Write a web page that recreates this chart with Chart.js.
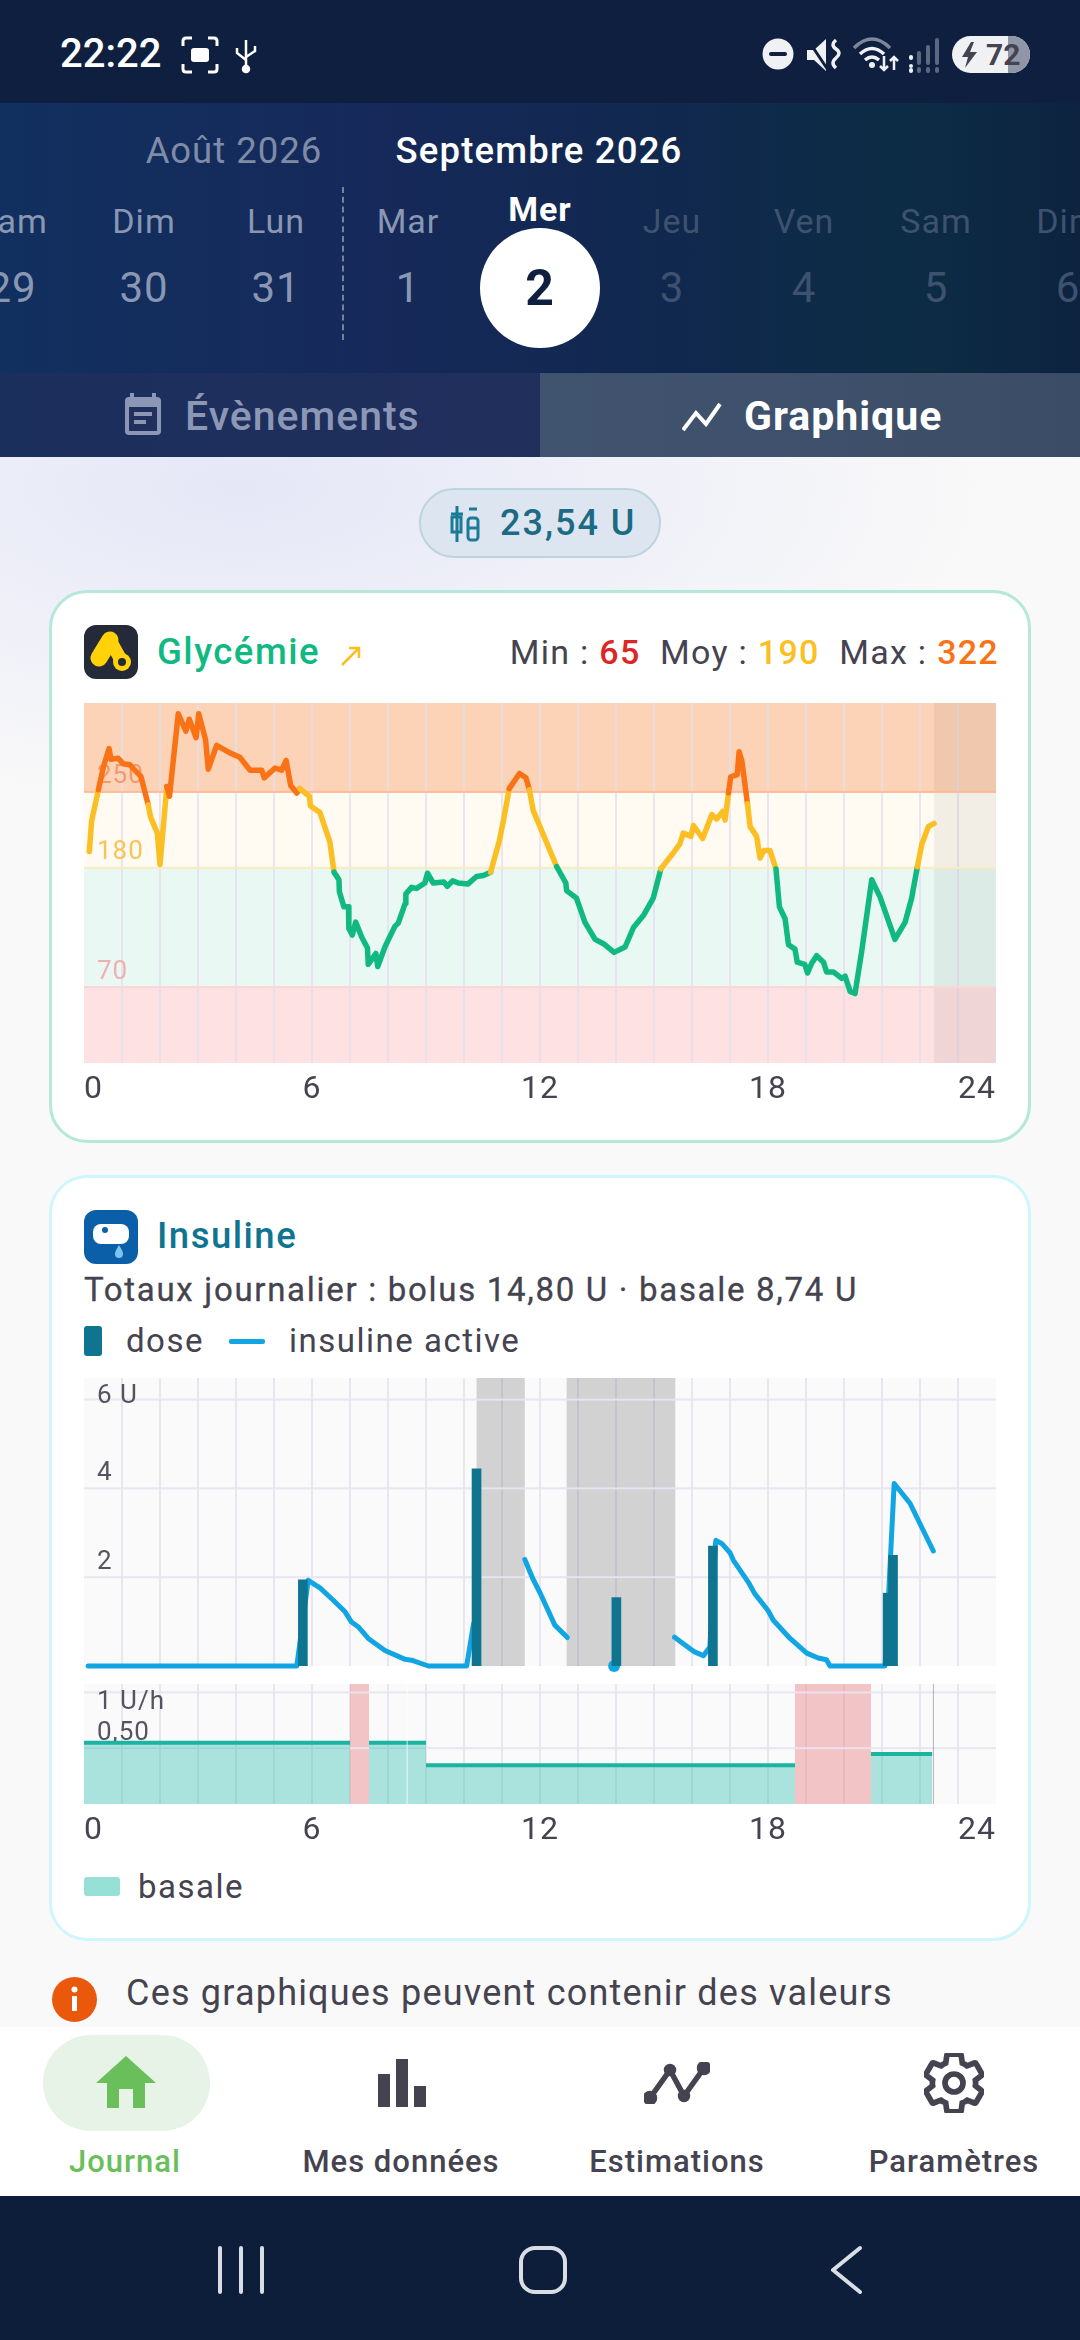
<!DOCTYPE html>
<html lang="fr">
<head>
<meta charset="utf-8">
<title>Journal - Graphique</title>
<script src="https://cdn.jsdelivr.net/npm/chart.js@4"></script>
<style>
  html, body { margin:0; padding:0; }
  body { width:1080px; height:2340px; position:relative; overflow:hidden; background:#f9f9f9; font-family:Roboto, sans-serif; color:#45434f; letter-spacing:1px; }
  .abs { position:absolute; }
  .txt { position:absolute; white-space:nowrap; line-height:1; transform:translateY(-50%); }
  .ctr { transform:translate(-50%,-50%); }
  canvas { position:absolute; display:block; }
  .card { position:absolute; background:#fff; box-sizing:border-box; border-radius:38px; }
</style>
</head>
<body>

<div class="abs" style="left:0;top:457px;width:1080px;height:400px;background:radial-gradient(ellipse 760px 320px at 240px 30px,#e5e7f7 0%,rgba(249,249,249,0) 100%);"></div>
<div class="abs" style="left:0;top:0;width:1080px;height:103px;background:#0e1f3f;"></div>
<div class="abs" style="left:0;top:103px;width:1080px;height:270px;background:linear-gradient(90deg,#11305f 0%,#16295a 35%,#11284f 60%,#0c2c44 85%,#0d2340 100%);"></div>
<div class="abs" style="left:0;top:373px;width:540px;height:84px;background:linear-gradient(90deg,#1b2f5c,#212f5d);"></div>
<div class="abs" style="left:540px;top:373px;width:540px;height:84px;background:linear-gradient(90deg,#41546f,#3b4c66);"></div>

<!-- status bar -->
<div class="txt" style="left:60px;top:54px;font-size:40px;font-weight:500;color:#fff;letter-spacing:0;">22:22</div>
<svg class="abs" style="left:181px;top:36px" width="38" height="38" viewBox="0 0 38 38" fill="none" stroke="#fff" stroke-width="3"><path d="M2 10V5q0-3 3-3h6M27 2h6q3 0 3 3v5M36 28v5q0 3-3 3h-6M11 36H5q-3 0-3-3v-5"/><rect x="10" y="12" width="18" height="14" rx="3" fill="#fff" stroke="none"/></svg>
<svg class="abs" style="left:234px;top:36px" width="24" height="38" viewBox="0 0 24 38" fill="none" stroke="#fff" stroke-width="2.5"><path d="M12 4v28M3 12v5l9 7M21 10v5l-9 6"/><circle cx="12" cy="33" r="3" fill="#fff"/></svg>
<svg class="abs" style="left:762px;top:38px" width="32" height="32" viewBox="0 0 32 32"><circle cx="16" cy="16" r="15.5" fill="#f0f1f4"/><rect x="7" y="14" width="18" height="4" rx="2" fill="#0e1f3f"/></svg>
<svg class="abs" style="left:806px;top:38px" width="36" height="34" viewBox="0 0 36 34"><path d="M1 12h7L20 1v32L8 22H1z" fill="#f0f1f4"/><path d="M30 2q-6 5 0 9t0 9 0 10" fill="none" stroke="#f0f1f4" stroke-width="3.5"/><path d="M2 2l20 30" stroke="#0e1f3f" stroke-width="3"/></svg>
<svg class="abs" style="left:852px;top:36px" width="48" height="36" viewBox="0 0 48 36" fill="none" stroke-width="3.5"><path d="M2 12q18-18 36 0" stroke="#7d8799"/><path d="M8 18q12-11 24 0M13 24q7-6 14 0" stroke="#f0f1f4"/><circle cx="20" cy="29" r="3" fill="#f0f1f4" stroke="none"/><path d="M32 20v14M28 30l4 4 4-4M42 34V22M38 25l4-4 4 4" stroke="#f0f1f4" stroke-width="2.5"/></svg>
<svg class="abs" style="left:908px;top:38px" width="34" height="36" viewBox="0 0 34 36"><g fill="#5a6880"><rect x="9" y="13" width="4" height="14" rx="2"/><rect x="18" y="7" width="4" height="20" rx="2"/><rect x="27" y="0" width="4" height="27" rx="2"/><rect x="9" y="29" width="4" height="6" rx="2"/><rect x="18" y="29" width="4" height="6" rx="2"/><rect x="27" y="29" width="4" height="6" rx="2"/></g><rect x="1" y="17" width="4" height="5" rx="2" fill="#f0f1f4"/><rect x="1" y="26" width="4" height="4" rx="2" fill="#f0f1f4"/><rect x="1" y="30" width="4" height="5" rx="2" fill="#f0f1f4"/></svg>
<div class="abs" style="left:952px;top:36px;width:78px;height:37px;border-radius:19px;overflow:hidden;background:#eff1f4;"><div class="abs" style="left:56px;top:0;width:22px;height:37px;background:#8f97a6;"></div></div>
<svg class="abs" style="left:962px;top:42px" width="16" height="26" viewBox="0 0 16 26"><path d="M9 0L0 15h6l-3 11 12-16H8l4-10z" fill="#45434f"/></svg>
<div class="txt" style="left:986px;top:55px;font-size:30px;font-weight:700;color:#45434f;letter-spacing:0;">72</div>

<!-- month and days -->
<div class="txt ctr" style="left:234px;top:151px;font-size:36.5px;color:#7f8ca8;">Août 2026</div>
<div class="txt ctr" style="left:539px;top:151px;font-size:36.5px;font-weight:500;color:#fff;letter-spacing:1.2px;">Septembre 2026</div>
<div id="dayStrip"></div>
<div class="abs" style="left:342px;top:187px;height:153px;border-left:2px dashed #76839f;"></div>
<div class="abs" style="left:480px;top:228px;width:120px;height:120px;border-radius:50%;background:#fff;"></div>

<!-- tabs -->
<svg class="abs" style="left:123px;top:392px" width="40" height="44" viewBox="0 0 40 44"><path d="M9 1v5M31 1v5" stroke="#8b97b5" stroke-width="4"/><rect x="2" y="5" width="36" height="38" rx="4" fill="#8b97b5"/><rect x="6" y="15" width="28" height="24" fill="#212f5d"/><rect x="11" y="20" width="18" height="4" fill="#8b97b5"/><rect x="11" y="28" width="12" height="4" fill="#8b97b5"/></svg>
<div class="txt" style="left:185px;top:416px;font-size:41px;font-weight:500;color:#8b97b5;">Évènements</div>
<svg class="abs" style="left:682px;top:402px" width="40" height="30" viewBox="0 0 40 30" fill="none" stroke="#fff" stroke-width="4"><path d="M1 28L14 11l10 11L38 2"/></svg>
<div class="txt" style="left:744px;top:416px;font-size:41px;font-weight:700;color:#fff;letter-spacing:1px;">Graphique</div>

<!-- pill -->
<div class="abs" style="left:419px;top:488px;width:242px;height:70px;box-sizing:border-box;border:2px solid #bdd3de;border-radius:35px;background:#dde6f0;"></div>
<svg class="abs" style="left:449px;top:506px" width="32" height="36" viewBox="0 0 32 36" fill="none" stroke="#1a7a98" stroke-width="3"><path d="M8 0v36M2 8h12"/><rect x="3" y="11" width="9" height="15"/><path d="M20 3h8"/><rect x="19" y="12" width="10" height="22" rx="3"/><path d="M19 22h10"/></svg>
<div class="txt" style="left:500px;top:523px;font-size:36px;font-weight:500;color:#1d6a85;letter-spacing:2px;">23,54 U</div>

<!-- card glycemie -->
<div class="card" style="left:49px;top:590px;width:982px;height:553px;border:3px solid #b5e8d8;"></div>
<svg class="abs" style="left:84px;top:625px" width="54" height="54" viewBox="0 0 54 54"><rect width="54" height="54" rx="12" fill="#242a38"/><g fill="none" stroke="#ffd20a" stroke-linecap="round"><path d="M26 15L15 33" stroke-width="17"/><path d="M26 15L37 35" stroke-width="13"/></g><circle cx="38" cy="37" r="9" fill="#ffd20a"/><circle cx="38" cy="37" r="4" fill="#242a38"/></svg>
<div class="txt" style="left:157px;top:652px;font-size:36.5px;font-weight:500;color:#10b981;letter-spacing:1.5px;">Glycémie</div>
<svg class="abs" style="left:340px;top:646px" width="22" height="20" viewBox="0 0 22 20" fill="none" stroke="#fbbf24" stroke-width="2.5"><path d="M2 19L18 3M9 2h10v10"/></svg>
<div class="txt" style="right:81px;top:652px;font-size:34px;font-weight:400;color:#45434f;letter-spacing:1.3px;">Min : <span style="color:#dc2626;font-weight:500">65</span>&nbsp; Moy : <span style="color:#fbbf24;font-weight:500">190</span>&nbsp; Max : <span style="color:#f97316;font-weight:500">322</span></div>
<canvas id="graphicFirst" width="912" height="410" style="left:84px;top:703px;width:912px;height:410px;"></canvas>

<!-- card insuline -->
<div class="card" style="left:49px;top:1175px;width:982px;height:766px;border:3px solid #cff6fb;"></div>
<svg class="abs" style="left:84px;top:1210px" width="54" height="54" viewBox="0 0 54 54"><rect width="54" height="54" rx="12" fill="#0b5ea8"/><rect x="9" y="14" width="36" height="20" rx="8" fill="#fff"/><circle cx="21" cy="20" r="3" fill="#0b5ea8"/><path d="M35 35c3 5 4 7 4 9a4 4 0 0 1-8 0c0-2 1-4 4-9z" fill="#7cc4f0"/></svg>
<div class="txt" style="left:157px;top:1236px;font-size:36.5px;font-weight:500;color:#0f7490;letter-spacing:1.5px;">Insuline</div>
<div class="txt" style="left:84px;top:1289px;font-size:33px;font-weight:400;color:#45434f;letter-spacing:1.7px;-webkit-text-stroke:.3px #45434f;">Totaux journalier : bolus 14,80 U · basale 8,74 U</div>
<div class="abs" style="left:84px;top:1326px;width:18px;height:30px;border-radius:3px;background:#0f7490;"></div>
<div class="txt" style="left:126px;top:1340px;font-size:33px;color:#45434f;letter-spacing:1.5px;">dose</div>
<div class="abs" style="left:229px;top:1339px;width:36px;height:5px;border-radius:2px;background:#12a5e4;"></div>
<div class="txt" style="left:289px;top:1340px;font-size:33px;color:#45434f;letter-spacing:1.5px;">insuline active</div>
<canvas id="graphicSecond" width="912" height="302" style="left:84px;top:1378px;width:912px;height:302px;"></canvas>
<canvas id="graphicThird" width="912" height="170" style="left:84px;top:1684px;width:912px;height:170px;"></canvas>
<div class="abs" style="left:84px;top:1877px;width:36px;height:19px;border-radius:3px;background:#97e0d6;"></div>
<div class="txt" style="left:138px;top:1886px;font-size:33px;color:#45434f;letter-spacing:1.5px;">basale</div>

<!-- info -->
<svg class="abs" style="left:52px;top:1977px" width="45" height="45" viewBox="0 0 45 45"><circle cx="22.5" cy="22.5" r="22.5" fill="#ea580c"/><rect x="20" y="19" width="5" height="15" fill="#fff"/><circle cx="22.5" cy="12.5" r="3" fill="#fff"/></svg>
<div class="txt" style="left:126px;top:1993px;font-size:36px;color:#45434f;letter-spacing:1.2px;">Ces graphiques peuvent contenir des valeurs</div>

<!-- bottom nav -->
<div class="abs" style="left:0;top:2027px;width:1080px;height:169px;background:#fff;"></div>
<div class="abs" style="left:43px;top:2035px;width:167px;height:96px;border-radius:48px;background:#e6f3e6;"></div>
<svg class="abs" style="left:96px;top:2056px" width="60" height="52" viewBox="0 0 60 52" fill="#6abf5b"><path d="M30 0L60 27H49V52H37V33H23V52H11V27H0z"/></svg>
<div class="txt ctr" style="left:125px;top:2161px;font-size:31px;font-weight:500;color:#6abf5b;">Journal</div>
<svg class="abs" style="left:378px;top:2059px" width="48" height="48" viewBox="0 0 48 48" fill="#45434f"><rect x="0" y="15" width="12" height="33"/><rect x="18" y="0" width="12" height="48"/><rect x="36" y="27" width="12" height="21"/></svg>
<div class="txt ctr" style="left:401px;top:2161px;font-size:31px;font-weight:500;">Mes données</div>
<svg class="abs" style="left:644px;top:2062px" width="66" height="42" viewBox="0 0 66 42" fill="none" stroke="#45434f" stroke-width="5.5" stroke-linejoin="round"><path d="M6 36L26 8l14 26L60 6"/><circle cx="6" cy="36" r="4.5" fill="#45434f"/><circle cx="26" cy="8" r="3.5" fill="#45434f"/><circle cx="40" cy="34" r="3.5" fill="#45434f"/><circle cx="60" cy="6" r="4.5" fill="#45434f"/></svg>
<div class="txt ctr" style="left:677px;top:2161px;font-size:31px;font-weight:500;">Estimations</div>
<svg class="abs" style="left:924px;top:2053px" width="60" height="60" viewBox="2 2 20 20" fill="none" stroke="#45434f" stroke-width="1.9"><path d="M19.14 12.94c.04-.3.06-.61.06-.94 0-.32-.02-.64-.07-.94l2.03-1.58c.18-.14.23-.41.12-.61l-1.92-3.32c-.12-.22-.37-.29-.59-.22l-2.39.96c-.5-.38-1.03-.7-1.62-.94l-.36-2.54c-.04-.24-.24-.41-.48-.41h-3.84c-.24 0-.43.17-.47.41l-.36 2.54c-.59.24-1.13.57-1.62.94l-2.39-.96c-.22-.08-.47 0-.59.22L2.74 8.87c-.12.21-.08.47.12.61l2.03 1.58c-.05.3-.09.63-.09.94s.02.64.07.94l-2.03 1.58c-.18.14-.23.41-.12.61l1.92 3.32c.12.22.37.29.59.22l2.39-.96c.5.38 1.03.7 1.62.94l.36 2.54c.05.24.24.41.48.41h3.84c.24 0 .44-.17.47-.41l.36-2.54c.59-.24 1.13-.56 1.62-.94l2.39.96c.22.08.47 0 .59-.22l1.92-3.32c.12-.22.07-.47-.12-.61l-2.01-1.58z"/><circle cx="12" cy="12" r="3"/></svg>
<div class="txt ctr" style="left:954px;top:2161px;font-size:31px;font-weight:500;">Paramètres</div>

<!-- system nav -->
<div class="abs" style="left:0;top:2196px;width:1080px;height:144px;background:#0d1e3a;"></div>
<svg class="abs" style="left:210px;top:2240px" width="660" height="60" viewBox="0 0 660 60" fill="none" stroke="#d9dde6" stroke-width="4" stroke-linecap="round" stroke-linejoin="round"><path d="M10 8v44M31 8v44M52 8v44"/><rect x="311" y="8" width="44" height="44" rx="14"/><path d="M650 8l-27 22 27 22" /></svg>

<script>
// Dias
const dayNames = ['Sam','Dim','Lun','Mar','Mer','Jeu','Ven','Sam','Dim'];
const dayNumbers = ['29','30','31','1','2','3','4','5','6'];

// Glycemie
const glucoseHours = [0.14,0.2,0.38,0.51,0.66,0.71,0.9,1.03,1.21,1.34,1.5,1.69,1.75,1.93,2.0,2.18,2.25,2.48,2.68,2.77,2.95,3.02,3.2,3.27,3.49,3.84,4.1,4.37,4.68,4.74,5.03,5.2,5.32,5.44,5.6,5.68,5.93,5.96,6.21,6.47,6.58,6.71,6.72,6.84,6.96,6.97,7.06,7.15,7.31,7.46,7.48,7.68,7.73,7.92,8.0,8.18,8.27,8.45,8.47,8.62,8.75,8.97,9.04,9.19,9.47,9.56,9.7,9.85,10.1,10.33,10.51,10.7,10.93,11.04,11.19,11.46,11.63,11.72,11.82,12.44,12.68,12.7,12.96,13.18,13.45,13.67,13.95,14.24,14.46,14.72,14.98,15.18,15.47,15.68,15.77,15.97,16.04,16.28,16.52,16.65,16.81,16.87,16.96,17.02,17.19,17.24,17.31,17.46,17.53,17.7,17.79,17.89,18.05,18.21,18.3,18.45,18.54,18.71,18.77,18.97,19.04,19.15,19.28,19.46,19.54,19.72,19.94,20.03,20.16,20.29,20.47,20.73,20.95,21.34,21.61,21.78,21.93,22.05,22.22,22.37];
const glucoseValues = [195,223,252,273,290,280,281,276,275,270,264,238,227,212,183,255,246,322,306,317,300,322,298,271,293,286,282,270,270,263,272,270,279,256,249,253,246,237,231,204,176,169,158,144,144,124,118,130,116,106,91,101,89,107,113,126,129,147,156,162,161,166,175,166,167,163,168,166,165,172,173,176,205,224,253,267,263,252,233,181,166,159,152,130,114,110,102,107,125,136,152,179,192,202,212,209,219,207,229,225,232,224,249,264,266,287,279,239,218,209,189,196,196,179,144,133,109,105,93,91,83,92,99,93,84,84,78,80,66,64,104,169,153,114,130,152,181,202,218,221];
const glucoseTicks = [70,180,250];
const glucoseTickColors = ['#eeb0b0','#f9c456','#f5986b'];
const glucoseLineColors = ['#fbd5d8','#f8edc0','#fbbb98'];
const glucoseBandEdges = [0,70,180,250,332];
const glucoseBandColors = ['#fde1e3','#e9f8f3','#fffaf2','#fdd3b7'];
const glucoseFutureFrom = 22.37;

// Insuline active (null = trou dans la courbe)
const insulinHours = [0.11,5.6,5.9,6.21,6.56,6.87,7.04,7.22,7.48,7.92,8.45,8.62,9.06,10.07,10.25,10.3,11.6,11.82,12.0,12.39,12.72,13,15.54,16.04,16.3,16.47,16.62,16.63,16.78,17.0,17.09,17.48,17.65,18.0,18.14,18.58,19.02,19.32,19.54,19.63,21.08,21.32,21.74,22.35];
const insulinValues = [0,0,1.93,1.76,1.48,1.22,0.99,0.88,0.62,0.35,0.15,0.13,0,0,0.95,null,2.4,1.95,1.65,0.92,0.64,null,0.65,0.33,0.23,0.43,2.79,2.83,2.76,2.55,2.38,1.89,1.63,1.25,1.03,0.62,0.29,0.18,0.14,0,0,4.11,3.66,2.59];
const insulinDotHours = [13.95];
const insulinDotValues = [0];
const doseHours = [5.76,10.33,14.01,16.55,21.15,21.29];
const doseValues = [1.94,4.44,1.54,2.7,1.64,2.49];
const doseTicks = [2,4,6];
const doseTickLabels = ['2','4','6 U'];
const pauseSpans = [[10.33,11.6],[12.7,15.56]];

// Basale
const basalHours = [0,7,7.25,7.5,9,9,9,18.71,18.71,20.71,22.32];
const basalValues = [0.548,0.548,null,0.548,0.548,null,0.348,0.348,null,0.449,0.449];
const basalTicks = [0.5,1];
const basalTickLabels = ['0,50','1 U/h'];
const suspendSpans = [[7,7.5],[18.71,20.71]];
const basalMarkHours = [8.49,22.34];
const basalMarkColors = ['rgba(255,255,255,0.75)','rgba(120,120,130,0.55)'];

const hourLabels = [0,6,12,18,24];
const gridColor = 'rgba(226,222,236,0.72)';
const tickColor = '#45434f';

function toPoints(xs, ys){
  return xs.map((x, i) => ({x: x, y: ys[i]}));
}

dayNames.forEach((name, i) => {
  var x = 12 + i * 132;
  var color = i < 4 ? '#8a97b3' : '#3e5270';
  var top = 221, weight = 400;
  if (i === 4){ color = '#fff'; top = 209; weight = 700; }
  document.getElementById('dayStrip').insertAdjacentHTML('beforeend',
    '<div class="txt ctr" style="left:'+x+'px;top:'+top+'px;font-size:34px;font-weight:'+weight+';color:'+color+';">'+name+'</div>');
  if (i !== 4){
    document.getElementById('dayStrip').insertAdjacentHTML('beforeend',
      '<div class="txt ctr" style="left:'+x+'px;top:288px;font-size:42px;color:'+color+';">'+dayNumbers[i]+'</div>');
  }
});
document.body.insertAdjacentHTML('beforeend',
  '<div class="txt ctr" style="left:540px;top:288px;font-size:50px;font-weight:700;color:#0e1f3f;">'+dayNumbers[4]+'</div>');

// bandas, zonas grises, lineas horizontales y etiquetas del eje Y
function dayLayers(cfg){
  return {
    id: 'dayLayers',
    beforeDraw(chart){
      var ctx = chart.ctx, a = chart.chartArea, y = chart.scales.y;
      ctx.save();
      (cfg.bands || []).forEach(b => {
        var top = y.getPixelForValue(b.to), bottom = y.getPixelForValue(b.from);
        ctx.fillStyle = b.color;
        ctx.fillRect(a.left, top, a.right - a.left, bottom - top);
      });
      ctx.restore();
    },
    beforeDatasetsDraw(chart){
      var ctx = chart.ctx, a = chart.chartArea, x = chart.scales.x, y = chart.scales.y;
      ctx.save();
      (cfg.spans || []).forEach(s => {
        var left = x.getPixelForValue(s.from), right = x.getPixelForValue(s.to);
        ctx.fillStyle = s.color;
        ctx.fillRect(left, a.top, right - left, a.bottom - a.top);
      });
      (cfg.ticks || []).forEach(t => {
        var py = y.getPixelForValue(t.value);
        ctx.fillStyle = t.lineColor;
        ctx.fillRect(a.left, py - 1, a.right - a.left, 2);
      });
      ctx.font = '26px Roboto';
      ctx.textBaseline = 'middle';
      ctx.textAlign = 'left';
      (cfg.ticks || []).forEach(t => {
        var py = y.getPixelForValue(t.value);
        ctx.fillStyle = t.color;
        ctx.fillText(t.label, a.left + 13, Math.max(py - 15, a.top + 18));
      });
      ctx.restore();
    },
    afterDatasetsDraw(chart){
      var ctx = chart.ctx, a = chart.chartArea, x = chart.scales.x;
      ctx.save();
      (cfg.marks || []).forEach(m => {
        ctx.fillStyle = m.color;
        ctx.fillRect(x.getPixelForValue(m.hour), a.top, 1, a.bottom - a.top);
      });
      ctx.restore();
    }
  };
}

function hourAxis(showLabels, padding, height){
  return {
    type: 'linear', min: 0, max: 24, offset: false,
    border: {display: false},
    grid: {
      offset: false, drawTicks: false, lineWidth: 2,
      color: c => (c.tick.value === 0 || c.tick.value === 24) ? 'rgba(0,0,0,0)' : gridColor
    },
    ticks: {
      display: showLabels, stepSize: 1, autoSkip: false, maxRotation: 0, align: 'inner', padding: padding,
      color: tickColor, font: {family: 'Roboto', size: 32},
      callback: v => hourLabels.includes(v) ? String(v) : ''
    },
    afterFit(scale){
      scale.paddingLeft = 0;
      scale.paddingRight = 0;
      scale.height = height;
    }
  };
}

const baseOptions = {
  responsive: false,
  animation: false,
  events: [],
  plugins: {legend: {display: false}, tooltip: {enabled: false}}
};

//-----GLYCEMIE
function glucoseColor(v){
  if (v >= 250) return '#f97316';
  if (v >= 180) return '#fbbf24';
  return '#10b981';
}

new Chart(document.getElementById('graphicFirst').getContext('2d'), {
  type: 'line',
  data: {datasets: [{
    data: toPoints(glucoseHours, glucoseValues),
    borderWidth: 5.5,
    borderColor: '#10b981',
    borderCapStyle: 'round',
    borderJoinStyle: 'round',
    pointRadius: 0,
    tension: 0,
    clip: false,
    segment: {borderColor: c => glucoseColor((c.p0.parsed.y + c.p1.parsed.y) / 2)}
  }]},
  options: Object.assign({}, baseOptions, {
    layout: {autoPadding: false},
    scales: {
      x: hourAxis(true, 8, 50),
      y: {display: false, min: 0, max: 332}
    }
  }),
  plugins: [dayLayers({
    bands: glucoseBandColors.map((c, i) => ({from: glucoseBandEdges[i], to: glucoseBandEdges[i+1], color: c})),
    spans: [{from: glucoseFutureFrom, to: 24, color: 'rgba(0,0,0,0.05)'}],
    ticks: glucoseTicks.map((v, i) => ({value: v, label: String(v), color: glucoseTickColors[i], lineColor: glucoseLineColors[i]}))
  })]
});

//-----INSULINE
new Chart(document.getElementById('graphicSecond').getContext('2d'), {
  type: 'line',
  data: {datasets: [
    {
      type: 'bar', order: 0,
      data: toPoints(doseHours, doseValues),
      backgroundColor: '#0f7490',
      barThickness: 9,
      grouped: false
    },
    {
      order: 1,
      data: toPoints(insulinHours, insulinValues),
      borderWidth: 5,
      borderColor: '#12a5e4',
      borderCapStyle: 'round',
      borderJoinStyle: 'round',
      pointRadius: 0,
      tension: 0,
      clip: false,
      spanGaps: false
    },
    {
      order: 2,
      data: toPoints(insulinDotHours, insulinDotValues),
      showLine: false,
      pointRadius: 6,
      pointBackgroundColor: '#12a5e4',
      pointBorderWidth: 0,
      clip: false
    }
  ]},
  options: Object.assign({}, baseOptions, {
    layout: {autoPadding: false, padding: {bottom: 14}},
    scales: {
      x: hourAxis(false, 0, 0),
      y: {display: false, min: 0, max: 6.486}
    }
  }),
  plugins: [dayLayers({
    bands: [{from: 0, to: 6.486, color: '#fafafb'}],
    spans: pauseSpans.map(s => ({from: s[0], to: s[1], color: 'rgba(0,0,0,0.155)'})),
    ticks: doseTicks.map((v, i) => ({value: v, label: doseTickLabels[i], color: '#55535f', lineColor: 'rgba(232,228,240,0.95)'}))
  })]
});

//-----BASALE
new Chart(document.getElementById('graphicThird').getContext('2d'), {
  type: 'line',
  data: {datasets: [{
    data: toPoints(basalHours, basalValues),
    borderWidth: 4,
    borderColor: '#1ab5a0',
    backgroundColor: 'rgba(20,184,166,0.35)',
    fill: 'origin',
    pointRadius: 0,
    tension: 0,
    spanGaps: false
  }]},
  options: Object.assign({}, baseOptions, {
    layout: {autoPadding: false},
    scales: {
      x: hourAxis(true, 8, 50),
      y: {display: false, min: 0, max: 1.075}
    }
  }),
  plugins: [dayLayers({
    bands: [{from: 0, to: 1.075, color: '#fafafb'}],
    spans: suspendSpans.map(s => ({from: s[0], to: s[1], color: 'rgba(235,130,130,0.45)'})),
    ticks: basalTicks.map((v, i) => ({value: v, label: basalTickLabels[i], color: '#55535f', lineColor: 'rgba(232,228,240,0.95)'})),
    marks: basalMarkHours.map((h, i) => ({hour: h, color: basalMarkColors[i]}))
  })]
});
</script>
</body>
</html>
